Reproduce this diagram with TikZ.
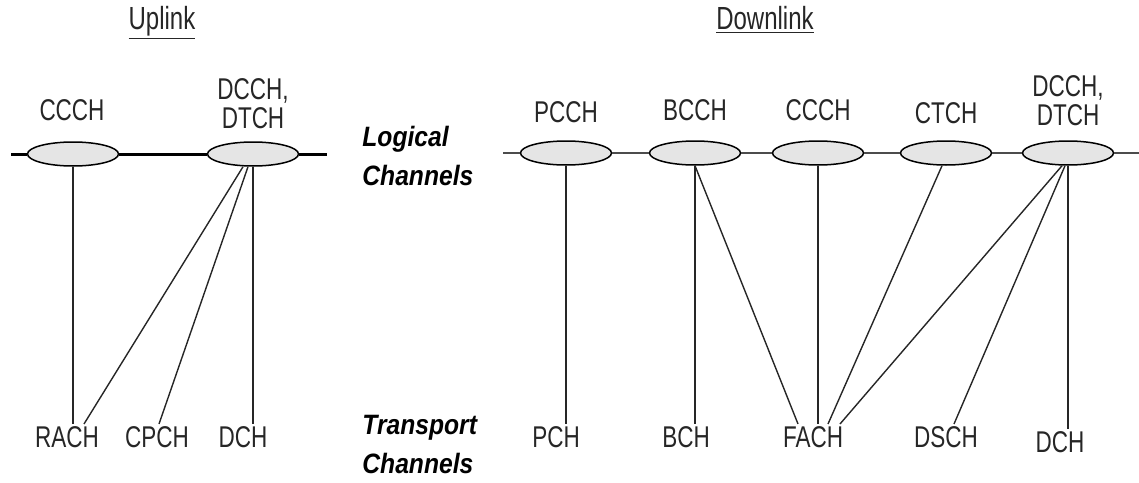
\documentclass[tikz,border=0pt]{standalone}
\usepackage{fontspec}
\usetikzlibrary{shapes.geometric}
\newfontfamily\chanfont[FakeStretch=0.75]{Liberation Sans}
\newfontfamily\layerfont[FakeStretch=0.88]{Liberation Sans}
\tikzset{
    chan/.style={ellipse, draw=black, line width=0.75pt, fill=black!10,
        minimum width=45.5pt, minimum height=12pt, inner sep=0pt},
    chname/.style={font=\chanfont\fontsize{15}{14.5}\selectfont, text=black!85,
        align=center, inner sep=1pt},
    layer/.style={font=\layerfont\bfseries\itshape\fontsize{14}{19.5}\selectfont,
        align=left, inner sep=0pt, anchor=west},
    link/.style={line width=0.7pt, draw=black!85}
}

\begin{document}
\begin{tikzpicture}[x=0.5pt, y=-0.5pt]
                \useasboundingbox (0,0) rectangle (1139,482);

                % Headings
                \node[chname, anchor=base, font=\chanfont\fontsize{16}{16}\selectfont] (uphead) at (162,29) {\underline{Uplink}};
                \node[chname, anchor=base, font=\chanfont\fontsize{16}{16}\selectfont] (downhead) at (765,29) {\underline{Downlink}};

                % Uplink logical channels
                \node[chan] (ulccch) at (73,154) {};
                \node[chan] (uldcch) at (253,154) {};
                \node[chname] (ulccchname) at (72,110) {CCCH};
                \node[chname] (uldcchname) at (253,104) {DCCH,\\DTCH};

                % Downlink logical channels
                \node[chan] (dlpcch) at (566,153) {};
                \node[chan] (dlbcch) at (695,153) {};
                \node[chan] (dlccch) at (818,153) {};
                \node[chan] (dlctch) at (946,153) {};
                \node[chan] (dldcch) at (1068,153) {};
                \node[chname] (dlpcchname) at (566,112) {PCCH};
                \node[chname] (dlbcchname) at (695,110) {BCCH};
                \node[chname] (dlccchname) at (818,110) {CCCH};
                \node[chname] (dlctchname) at (946,113) {CTCH};
                \node[chname] (dldcchname) at (1068,101) {DCCH,\\DTCH};

                % Layer labels
                \node[layer] (logical) at (362,156) {Logical\\Channels};
                \node[layer] (transport) at (362,444) {Transport\\Channels};

                % Transport channels
                \node[chname] (ulrach) at (67,437) {RACH};
                \node[chname] (ulcpch) at (157,437) {CPCH};
                \node[chname] (uldch) at (243,437) {DCH};
                \node[chname] (dlpch) at (556,437) {PCH};
                \node[chname] (dlbch) at (686,437) {BCH};
                \node[chname] (dlfach) at (813,437) {FACH};
                \node[chname] (dldsch) at (946,437) {DSCH};
                \node[chname] (dldch) at (1060,442) {DCH};

                % Backbones
                \coordinate (ulstart) at (11,154);
                \coordinate (ulend) at (327,154);
                \coordinate (dlstart) at (503,153);
                \coordinate (dlend) at (1139,153);
                \draw[line width=1.5pt] (ulstart) -- (ulccch.west) (ulccch.east) -- (uldcch.west) (uldcch.east) -- (ulend);
                \draw[line width=1pt, black!70] (dlstart) -- (dlpcch.west) (dlpcch.east) -- (dlbcch.west)
                    (dlbcch.east) -- (dlccch.west) (dlccch.east) -- (dlctch.west)
                    (dlctch.east) -- (dldcch.west) (dldcch.east) -- (dlend);

                % Uplink mapping
                \draw[link] (ulccch.south) -- (ulccch.south |- ulrach.north);
                \draw[link] ([xshift=-5pt]uldcch.south) -- ([xshift=8.5pt]ulrach.north);
                \draw[link] ([xshift=-2.5pt]uldcch.south) -- ([xshift=1pt]ulcpch.north);
                \draw[link] (uldcch.south) -- (uldcch.south |- uldch.north);

                % Downlink mapping
                \draw[link] (dlpcch.south) -- (dlpcch.south |- dlpch.north);
                \draw[link] (dlbcch.south) -- (dlbcch.south |- dlbch.north);
                \draw[link] (dlbcch.south) -- ([xshift=-7.5pt]dlfach.north);
                \draw[link] (dlccch.south) -- (dlccch.south |- dlfach.north);
                \draw[link] ([xshift=-2pt]dlctch.south) -- ([xshift=7.5pt]dlfach.north);
                \draw[link] ([xshift=-3pt]dldcch.south) -- ([xshift=13.5pt]dlfach.north);
                \draw[link] ([xshift=-1.5pt]dldcch.south) -- ([xshift=4pt]dldsch.north);
                \draw[link] (dldcch.south) -- (dldcch.south |- dldch.north);
            \end{tikzpicture}
\end{document}
